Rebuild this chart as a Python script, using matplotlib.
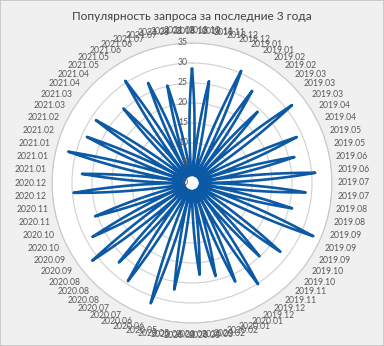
import numpy as np
import matplotlib
matplotlib.use("Agg")
import matplotlib.pyplot as plt
from matplotlib.patches import Rectangle

title = "Популярность запроса за последние 3 года"

# one label per point, every two weeks starting 2018.10
dates = [
    "2018.10", "2018.10", "2018.11", "2018.11", "2018.12", "2018.12",
    "2019.01", "2019.01", "2019.02", "2019.02", "2019.03", "2019.03", "2019.03",
    "2019.04", "2019.04", "2019.05", "2019.05", "2019.06", "2019.06",
    "2019.07", "2019.07", "2019.08", "2019.08", "2019.09", "2019.09", "2019.09",
    "2019.10", "2019.10", "2019.11", "2019.11", "2019.12", "2019.12",
    "2020.01", "2020.01", "2020.02", "2020.02", "2020.03", "2020.03", "2020.03",
    "2020.04", "2020.04", "2020.05", "2020.05", "2020.06", "2020.06",
    "2020.07", "2020.07", "2020.08", "2020.08", "2020.08", "2020.09", "2020.09",
    "2020.10", "2020.10", "2020.11", "2020.11", "2020.12", "2020.12",
    "2021.01", "2021.01", "2021.01", "2021.02", "2021.02", "2021.03", "2021.03",
    "2021.04", "2021.04", "2021.05", "2021.05", "2021.06", "2021.06",
    "2021.07", "2021.07", "2021.08", "2021.08", "2021.08",
]

popularity = [
    28.5, 2, 25.8, 2, 2, 30.6, 2, 27.5, 2, 24.2,
    2, 31.7, 2, 2, 28.6, 2, 26.4, 2, 30.9, 2,
    28.5, 2, 25.8, 2, 33.1, 2, 2, 28.0, 2, 24.9,
    2, 30.2, 2, 26.9, 2, 24.0, 2, 23.0, 2, 2,
    27.0, 2, 31.8, 2, 2, 29.3, 2, 27.0, 2, 31.6,
    2, 28.3, 2, 25.6, 2, 2, 29.7, 2, 27.6, 2,
    31.9, 2, 28.7, 2, 28.7, 2, 2, 25.3, 2, 30.5,
    2, 27.3, 2, 25.1, 2, 2,
]

r_ticks = [0, 5, 10, 15, 20, 25, 30, 35]

n = len(popularity)
theta = np.arange(n) * 2 * np.pi / n
theta_c = np.append(theta, 2 * np.pi)
vals_c = np.append(popularity, popularity[0])

fig = plt.figure(figsize=(3.84, 3.46), dpi=100, facecolor="#f0f0f0")
fig.patches.append(Rectangle((0, 0), 1, 1, transform=fig.transFigure,
                             fill=False, edgecolor="#c4c4c4", lw=1.2))

ax = fig.add_axes([52 / 384, 23 / 346, 280 / 384, 280 / 346], projection="polar")
ax.set_facecolor("white")
ax.set_theta_zero_location("N")
ax.set_theta_direction(-1)
ax.set_ylim(0, 35)
ax.set_yticks(r_ticks[1:])
ax.set_yticklabels([])
ax.set_xticks([])
ax.yaxis.grid(True, color="#d0d0d0", lw=0.8)
ax.xaxis.grid(False)
ax.spines["polar"].set_color("#c8c8c8")
ax.spines["polar"].set_linewidth(0.8)

line, = ax.plot(theta_c, vals_c, color="#0c5aa6", lw=1.9,
                solid_joinstyle="round")
# let the polar transform draw each segment as a curve in (theta, r)
line.get_path()._interpolation_steps = 40

font = "Lato"
gray = "#595959"

for r in r_ticks:
    ax.annotate(str(r), xy=(0, r), xytext=(-3, 0), textcoords="offset points",
                ha="right", va="center", fontsize=6.2, color=gray, family=font,
                annotation_clip=False)

w, h, pad = 29, 9, 7
for th, lab in zip(theta, dates):
    s, c = np.sin(th), np.cos(th)
    off = pad + abs(s) * w / 2 + abs(c) * h / 2
    ax.annotate(lab, xy=(th, 35), xytext=(s * off * 0.72, c * off * 0.72),
                textcoords="offset points", ha="center", va="center",
                fontsize=6.2, color=gray, family=font, annotation_clip=False)

fig.text(0.5, 1 - 16 / 346, title, ha="center", va="center",
         fontsize=8.6, color="#404040", family=font)

fig.savefig("out.png", dpi=100, facecolor=fig.get_facecolor())
